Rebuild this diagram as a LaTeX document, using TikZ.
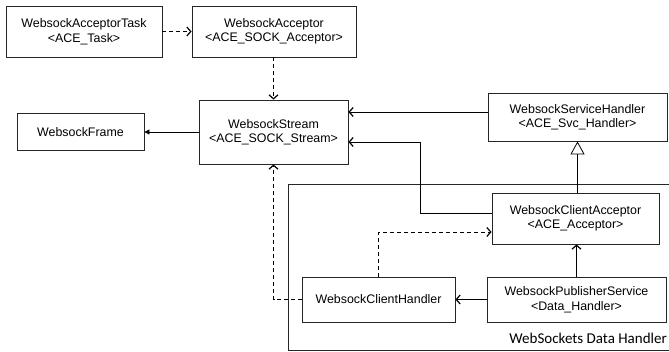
\documentclass[tikz,border=0pt]{standalone}
\usepackage{fontspec}
\setmainfont{Liberation Sans}
\newfontfamily\groupfont{Carlito}
\usetikzlibrary{arrows.meta}
\begin{document}
\begin{tikzpicture}[x=1pt,y=-1pt,
  cls/.style={draw=black!85, line width=0.8pt, align=center, inner sep=0pt,
    font=\fontsize{12.4}{14.5}\selectfont},
  link/.style={line width=0.8pt},
  dep/.style={line width=0.8pt, dash pattern=on 4pt off 3pt},
  barb/.style={-{Straight Barb[length=4pt,width=9pt,line width=1.2pt]}},
  solidtip/.style={-{Triangle[length=5pt,width=5pt]}},
  inherit/.style={-{Triangle[open,length=13pt,width=14pt,fill=white]}}]
\useasboundingbox (0,0) rectangle (669,352);
\clip (0,0) rectangle (669,352);

% package frame
\draw[line width=0.8pt, draw=black!85] (288,184) rectangle (680,350);
\node[anchor=base east, inner sep=0pt, font=\groupfont\fontsize{15}{17}\selectfont]
  (grp) at (667,344) {WebSockets Data Handler};

% classes
\node[cls, minimum width=156pt, minimum height=51pt] (task) at (84,31.5)
  {WebsockAcceptorTask\\<ACE\_Task>};
\node[cls, minimum width=164pt, minimum height=51pt] (acc) at (274,31.5)
  {WebsockAcceptor\\<ACE\_SOCK\_Acceptor>};
\node[cls, minimum width=149pt, minimum height=64pt] (stream) at (273.5,132)
  {WebsockStream\\<ACE\_SOCK\_Stream>};
\node[cls, minimum width=127pt, minimum height=37pt] (frame) at (80.5,132)
  {WebsockFrame};
\node[cls, minimum width=179pt, minimum height=48pt] (svc) at (577.5,117)
  {WebsockServiceHandler\\<ACE\_Svc\_Handler>};
\node[cls, minimum width=167pt, minimum height=51pt, fill=white] (ca) at (575.5,218.5)
  {WebsockClientAcceptor\\<ACE\_Acceptor>};
\node[cls, minimum width=153pt, minimum height=45pt, fill=white] (ch) at (378.5,299.5)
  {WebsockClientHandler};
\node[cls, minimum width=179pt, minimum height=45pt, fill=white] (pub) at (576.5,299.5)
  {WebsockPublisherService\\<Data\_Handler>};

% relations
\draw[dep, barb] (task.east) -- (acc.west);
\draw[dep, barb] (acc.south -| stream.north) -- (stream.north);
\draw[link, solidtip] (stream.west) -- (frame.east);
\draw[link, barb] ([yshift=5pt]svc.west) -- ([yshift=5pt]svc.west -| stream.east);
\coordinate (bend) at (420,142);
\draw[link, barb] ([yshift=5.5pt]ca.west) -| (bend) -- (bend -| stream.east);
\draw[link, inherit] (ca.north -| svc.south) -- (svc.south);
\draw[link, barb] (pub.north) -- (pub.north |- ca.south);
\draw[link, barb] (pub.west) -- (ch.east);
\draw[dep, barb] (ch.north) |- ([yshift=-13.5pt]ca.west);
\draw[dep, barb] (ch.west) -| (stream.south);
\end{tikzpicture}
\end{document}
